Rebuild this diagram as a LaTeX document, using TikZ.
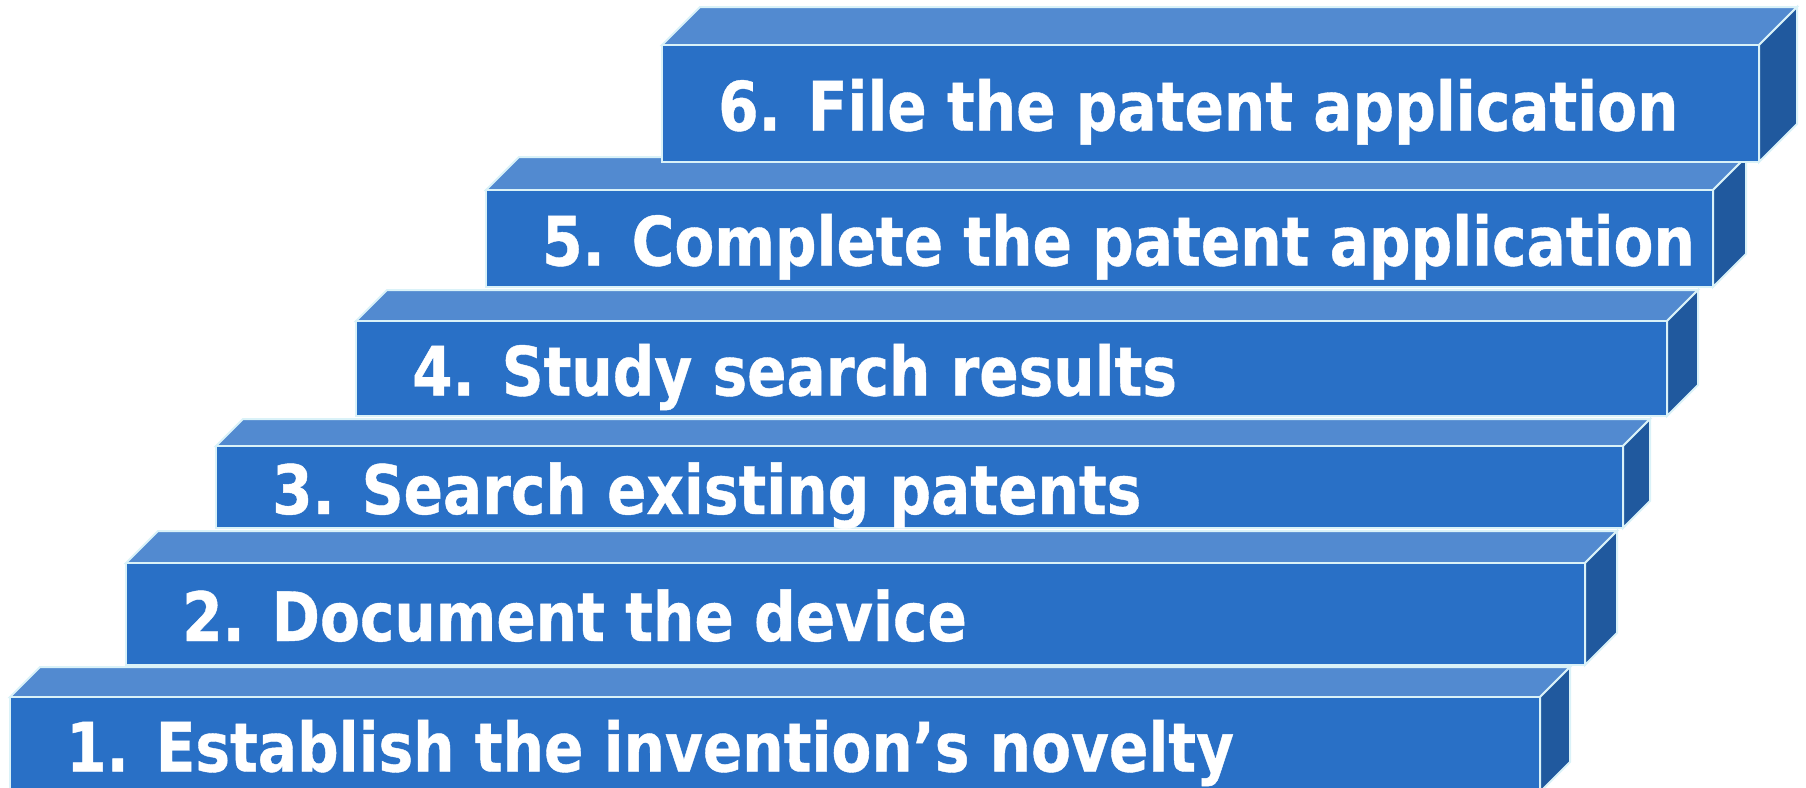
\documentclass[tikz,border=0pt]{standalone}
\usepackage{fontspec}
\newfontfamily\stepfont[FakeStretch=0.855, FakeBold=0.6]{DejaVu Sans}
\definecolor{frontblue}{HTML}{2970C6}
\definecolor{topblue}{HTML}{528AD0}
\definecolor{sideblue}{HTML}{20599E}
\definecolor{edgecyan}{HTML}{DAF2F8}
\tikzset{
  face/.style={draw=edgecyan, line width=2pt, line join=miter},
  frontface/.style={face, fill=frontblue},
  topface/.style={face, fill=topblue},
  sideface/.style={face, fill=sideblue},
  steplabel/.style={text=white, inner sep=0pt, anchor=base west,
    font=\stepfont\bfseries\fontsize{68}{80}\selectfont}
}
% #1 name, #2 left, #3 right, #4 top, #5 bottom, #6 depth, #7 label
\newcommand\stairstep[7]{%
  \path[topface] (#2,#4) -- ({#2+#6},{#4-#6}) -- ({#3+#6},{#4-#6}) -- (#3,#4) -- cycle;
  \path[sideface] (#3,#4) -- ({#3+#6},{#4-#6}) -- ({#3+#6},{#5-#6}) -- (#3,#5) -- cycle;
  \path[frontface] (#2,#4) rectangle (#3,#5);
  \node[steplabel] (#1) at ({#2+56},{(#4+#5)/2+27}) {#7};
}
\begin{document}
\begin{tikzpicture}[x=1pt, y=-1pt]
  \useasboundingbox (0,0) rectangle (1806,787);
  \clip (0,0) rectangle (1806,787);
  \stairstep{s1}{10}{1540}{697}{792}{30}{1. Establish the invention’s novelty}
  \stairstep{s2}{126}{1585}{563}{665}{32}{2. Document the device}
  \stairstep{s3}{216}{1623}{446}{528}{27}{3. Search existing patents}
  \stairstep{s4}{356}{1667}{321}{416}{31}{4. Study search results}
  \stairstep{s5}{486}{1713}{190}{287}{33}{5. Complete the patent application}
  \stairstep{s6}{662}{1759}{45}{162}{38}{6. File the patent application}
\end{tikzpicture}
\end{document}
